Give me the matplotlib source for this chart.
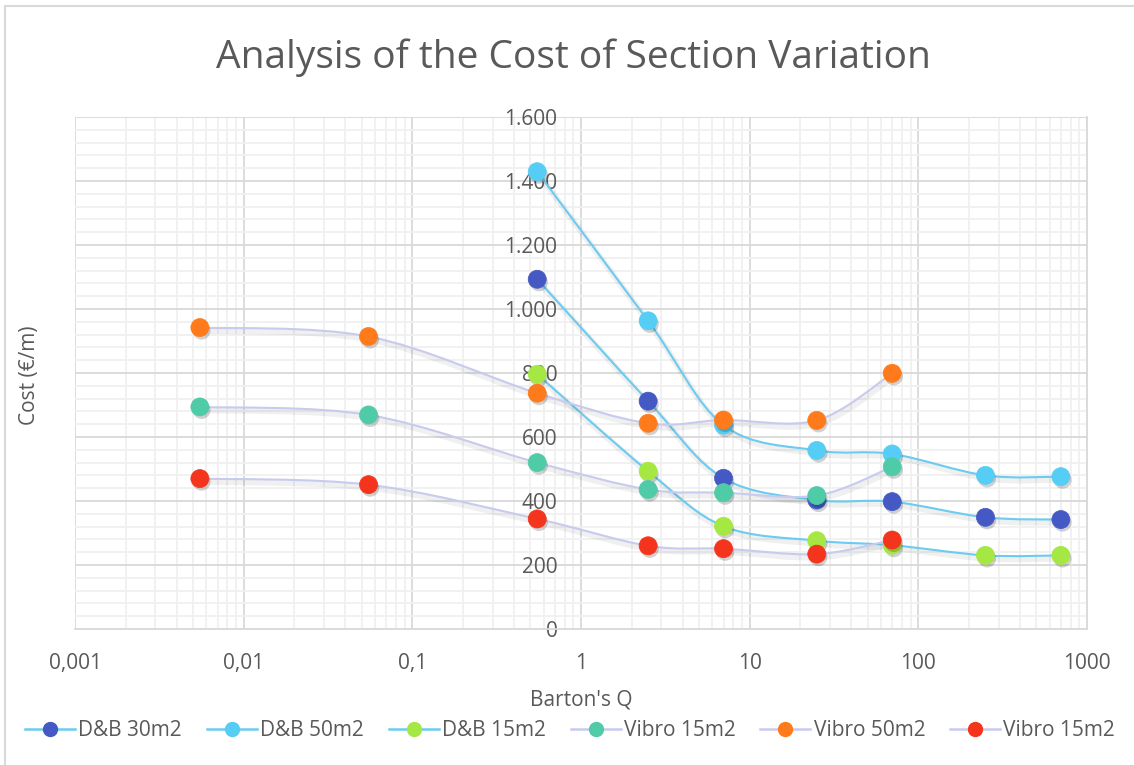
import numpy as np
import matplotlib
matplotlib.use("Agg")
import matplotlib.pyplot as plt
import matplotlib.patheffects as pe
from matplotlib.path import Path
from matplotlib.patches import PathPatch, Rectangle
from matplotlib.lines import Line2D
from matplotlib.ticker import FixedLocator, FuncFormatter, LogLocator, MultipleLocator

plt.rcParams['font.family'] = ['Open Sans', 'DejaVu Sans']

# ---------------- data ----------------
q_db = [0.55, 2.5, 7, 25, 70, 250, 700]
q_vibro = [0.0055, 0.055, 0.55, 2.5, 7, 25, 70]

db30 = [1093, 712, 471, 403, 398, 349, 342]
db50 = [1429, 963, 637, 558, 547, 480, 476]
db15 = [796, 493, 321, 276, 262, 230, 230]
vibro15a = [694, 669, 520, 436, 426, 417, 507]
vibro50 = [942, 914, 737, 643, 653, 652, 799]
vibro15b = [470, 451, 344, 260, 251, 234, 278]

series_names = ["D&B 30m2", "D&B 50m2", "D&B 15m2", "Vibro 15m2", "Vibro 50m2", "Vibro 15m2"]
x_ticks = [0.001, 0.01, 0.1, 1, 10, 100, 1000]
x_tick_labels = ["0,001", "0,01", "0,1", "1", "10", "100", "1000"]
y_ticks = [0, 200, 400, 600, 800, 1000, 1200, 1400, 1600]

marker_colors = ["#4459c4", "#55cdf5", "#a5e843", "#50cba8", "#ff7a1a", "#f4341c"]
db_line = "#6bcbf0"
vibro_line = "#c8cbee"
text_color = "#595959"

# --------------- figure ---------------
W, H = 1134, 765
fig = plt.figure(figsize=(W / 100, H / 100), dpi=100)
ax_left, ax_right, ax_top, ax_bottom = 75, 1087, 117, 629
ax = fig.add_axes([ax_left / W, 1 - ax_bottom / H, (ax_right - ax_left) / W, (ax_bottom - ax_top) / H])

# chart-area border (left/top visible)
fig.patches.append(Rectangle((5 / W, -0.1), 2, 1.1 - 6 / H, transform=fig.transFigure,
                             fill=False, edgecolor="#d9d9d9", lw=1.5, zorder=0))

ax.set_xscale("log")
ax.set_xlim(0.001, 1000)
ax.set_ylim(0, 1600)

ax.xaxis.set_major_locator(FixedLocator(x_ticks))
ax.xaxis.set_minor_locator(LogLocator(base=10, subs=np.arange(2, 10), numticks=20))
ax.xaxis.set_major_formatter(FuncFormatter(lambda v, p: x_tick_labels[x_ticks.index(v)] if v in x_ticks else ""))
ax.xaxis.set_minor_formatter(FuncFormatter(lambda v, p: ""))
ax.yaxis.set_major_locator(FixedLocator(y_ticks))
ax.yaxis.set_minor_locator(MultipleLocator(40))
ax.yaxis.set_major_formatter(FuncFormatter(lambda v, p: f"{int(v):,}".replace(",", ".")))

ax.grid(which="major", color="#d9d9d9", lw=1.3, zorder=0)
ax.grid(which="minor", color="#f0f0f0", lw=1.3, zorder=0)
ax.set_axisbelow(True)

for s in ["top", "left"]:
    ax.spines[s].set_visible(False)
ax.spines["right"].set_color("#d9d9d9")
ax.spines["bottom"].set_color("#d9d9d9")
ax.spines["right"].set_linewidth(1.3)
ax.spines["bottom"].set_linewidth(1.3)

# y axis crosses at x=1
ax.spines["left"].set_position(("data", 1))
ax.tick_params(axis="both", which="both", length=0, colors=text_color, labelsize=15)
ax.tick_params(axis="y", pad=17)
ax.tick_params(axis="x", pad=17)

ax.set_xlabel("Barton's Q", color=text_color, fontsize=15)
ax.xaxis.set_label_coords(0.5, -0.118)
fig.text(30 / W, 1 - 375 / H, "Cost (€/m)", rotation=90, ha="center", va="center",
         color=text_color, fontsize=15)

fig.text(573 / W, 1 - 58 / H, "Analysis of the Cost of Section Variation",
         ha="center", va="center", color=text_color, fontsize=28)

# --------------- smooth lines (Excel-like bezier) ---------------
ax_w_px = ax_right - ax_left
ax_h_px = ax_bottom - ax_top


def to_uv(x, y):
    u = (np.log10(x) + 3) / 6 * ax_w_px
    v = y / 1600 * ax_h_px
    return np.array([u, v])


def from_uv(p):
    return 10 ** (p[0] / ax_w_px * 6 - 3), p[1] / ax_h_px * 1600


def smooth_path(xs, ys):
    pts = [to_uv(x, y) for x, y in zip(xs, ys)]
    n = len(pts)
    verts = [from_uv(pts[0])]
    codes = [Path.MOVETO]
    for i in range(n - 1):
        p0 = pts[i - 1] if i > 0 else pts[i]
        p1 = pts[i]
        p2 = pts[i + 1]
        p3 = pts[i + 2] if i + 2 < n else pts[i + 1]
        c1 = p1 + (p2 - p0) / 6
        c2 = p2 - (p3 - p1) / 6
        verts += [from_uv(c1), from_uv(c2), from_uv(p2)]
        codes += [Path.CURVE4] * 3
    return Path(verts, codes)


line_shadow = [pe.SimpleLineShadow(offset=(1.2, -2.2), shadow_color="#000000", alpha=0.06, linewidth=4.5),
               pe.Normal()]
marker_shadow = [pe.SimplePatchShadow(offset=(1.2, -2.2), shadow_rgbFace="#000000", alpha=0.18), pe.Normal()]

all_series = [
    (q_db, db30, db_line),
    (q_db, db50, db_line),
    (q_db, db15, db_line),
    (q_vibro, vibro15a, vibro_line),
    (q_vibro, vibro50, vibro_line),
    (q_vibro, vibro15b, vibro_line),
]

handles = []
for i, (xs, ys, lc) in enumerate(all_series):
    patch = PathPatch(smooth_path(xs, ys), facecolor="none", edgecolor=lc, lw=1.5, zorder=2 + i * 0.01)
    patch.set_path_effects(line_shadow)
    ax.add_patch(patch)
for i, (xs, ys, lc) in enumerate(all_series):
    mc = marker_colors[i]
    ax.plot(xs, ys, linestyle="none", marker="o", markersize=13, markerfacecolor=mc,
            markeredgecolor=mc, markeredgewidth=0.5, zorder=3 + i * 0.01,
            path_effects=marker_shadow)
    handles.append(Line2D([], [], color=lc, lw=1.8, marker="o", markersize=10,
                          markerfacecolor=mc, markeredgecolor=mc))

fig.legend(handles, series_names, ncol=6, loc="center", bbox_to_anchor=(570 / W, 1 - 731 / H),
           frameon=False, fontsize=15, labelcolor=text_color, handlelength=2.4,
           handletextpad=0.15, columnspacing=1.2, borderaxespad=0)

fig.savefig("out.png", dpi=100, facecolor="white")
